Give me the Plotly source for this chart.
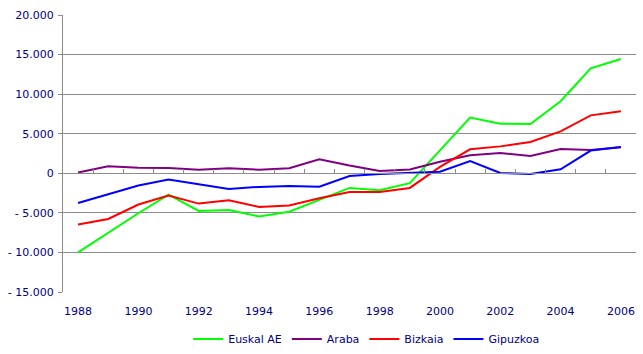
import plotly.graph_objects as go

years = list(range(1988, 2007))
euskal_ae = [-10000, -7500, -5050, -2700, -4750, -4650, -5450, -4850, -3300, -1850, -2150, -1250, 2900, 7050, 6270, 6230, 9100, 13270, 14450]
araba     = [100, 880, 700, 680, 460, 630, 460, 630, 1770, 980, 290, 480, 1450, 2270, 2560, 2190, 3070, 2940, 3300]
bizkaia   = [-6480, -5770, -3950, -2820, -3830, -3410, -4250, -4080, -3150, -2360, -2360, -1850, 800, 3030, 3400, 3960, 5300, 7320, 7830]
gipuzkoa  = [-3750, -2690, -1550, -800, -1390, -1980, -1720, -1600, -1700, -340, -100, 80, 200, 1550, 40, -90, 500, 2870, 3320]

series = [("Euskal AE", euskal_ae, "#00FF00"), ("Araba", araba, "#800080"),
          ("Bizkaia", bizkaia, "#FF0000"), ("Gipuzkoa", gipuzkoa, "#0000FF")]

y_ticks = [-15000, -10000, -5000, 0, 5000, 10000, 15000, 20000]
y_labels = ["- 15.000", "- 10.000", "- 5.000", "0", "5.000", "10.000", "15.000", "20.000"]
x_ticks = list(range(1988, 2007, 2))
x_labels = [str(v) for v in x_ticks]
x_bounds = [y - 0.5 for y in range(1988, 2008)]

navy = "#000080"
grey = "#8C8C8C"
fig = go.Figure()
for name, vals, col in series:
    fig.add_trace(go.Scatter(x=years, y=vals, name=name, mode="lines",
                             line=dict(color=col, width=2)))
# invisible trace on xaxis2 so that axis is drawn
fig.add_trace(go.Scatter(x=[years[0]], y=[0], xaxis="x2", mode="markers",
                         marker=dict(opacity=0), showlegend=False, hoverinfo="skip"))

ymin, ymax = -15000, 20000
fig.update_layout(
    width=643, height=354,
    margin=dict(l=63, r=7, t=15, b=62, autoexpand=False),
    paper_bgcolor="white", plot_bgcolor="white",
    font=dict(family="DejaVu Sans", size=11, color=navy),
    xaxis=dict(range=[1987.5, 2006.5], tickvals=x_ticks, ticktext=x_labels,
               showgrid=False, zeroline=False, showline=False, ticks="",
               tickfont=dict(size=11, color=navy), ticklabelstandoff=11),
    xaxis2=dict(overlaying="x", matches="x", anchor="free", side="bottom",
                position=(0 - ymin) / (ymax - ymin),
                tickvals=x_bounds, showticklabels=False, ticks="inside",
                ticklen=4, tickcolor=grey, tickwidth=1,
                showgrid=False, zeroline=False, showline=True, linecolor=grey, linewidth=1),
    yaxis=dict(range=[ymin, ymax], tickvals=y_ticks, ticktext=y_labels,
               showgrid=True, gridcolor=grey, gridwidth=1, zeroline=False,
               showline=True, linecolor=grey, linewidth=1,
               ticks="outside", ticklen=4, tickcolor=grey,
               tickfont=dict(size=11, color=navy), ticklabelstandoff=2),
    legend=dict(orientation="h", x=0.53, xanchor="center", y=-0.17, yanchor="middle",
                font=dict(size=11, color=navy), itemwidth=30, tracegroupgap=0),
    showlegend=True,
)
fig.write_html("out.html")
